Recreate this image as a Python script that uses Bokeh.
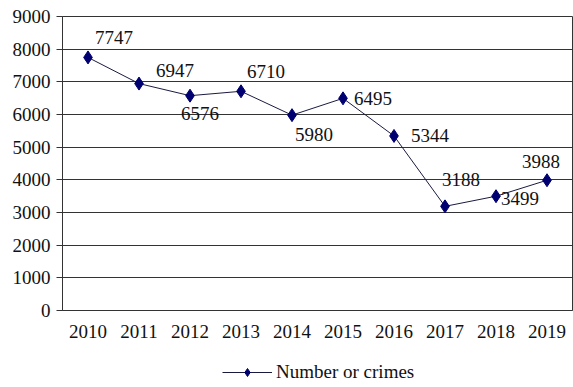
from bokeh.plotting import figure
from bokeh.layouts import column
from bokeh.models import Legend, LegendItem, ColumnDataSource, FixedTicker, Range1d
from bokeh.embed import file_html
from bokeh.resources import INLINE

years = ["2010", "2011", "2012", "2013", "2014", "2015", "2016", "2017", "2018", "2019"]
crimes = [7747, 6947, 6576, 6710, 5980, 6495, 5344, 3188, 3499, 3988]
label_dx = [26, 36, 10, 25, 22, 30, 36, 16, 24, -6]
label_dy = [-20, -13, 18, -20, 19, 0, 0, -27, 2, -19]
y_ticks = [0, 1000, 2000, 3000, 4000, 5000, 6000, 7000, 8000, 9000]
series_name = "Number or crimes"

FONT = "Liberation Serif"
LINE = "#1a1a40"
MARK = "#000070"

p = figure(width=573, height=350, x_range=years, y_range=Range1d(0, 9000),
           output_backend="svg", toolbar_location=None,
           min_border_left=62, min_border_right=1, min_border_top=16, min_border_bottom=40)
p.background_fill_color = "white"
p.border_fill_color = "white"
p.outline_line_color = "#333333"
p.outline_line_width = 1

src = ColumnDataSource(dict(x=years, y=crimes, dx=label_dx, dy=label_dy,
                            t=[str(v) for v in crimes]))

p.line("x", "y", source=src, line_color=LINE, line_width=1)
p.scatter("x", "y", source=src, marker="diamond", size=13,
          fill_color=MARK, line_color=MARK)
p.text("x", "y", text="t", source=src, x_offset="dx", y_offset="dy",
       text_align="center", text_baseline="middle",
       text_font={"value": FONT}, text_font_size="19px", text_color="#111111")

p.xgrid.grid_line_color = None
p.ygrid.grid_line_color = "#333333"
p.ygrid.grid_line_width = 1
p.yaxis.ticker = FixedTicker(ticks=y_ticks)

for ax in (p.xaxis, p.yaxis):
    ax.major_label_text_font = FONT
    ax.major_label_text_font_size = "19px"
    ax.major_label_text_color = "#111111"
    ax.axis_line_color = "#333333"
    ax.minor_tick_line_color = None

p.yaxis.major_tick_out = 6
p.yaxis.major_tick_in = 0
p.yaxis.major_tick_line_color = "#333333"
p.yaxis.major_label_standoff = 6
p.xaxis.major_tick_line_color = None
p.xaxis.major_label_standoff = 8

# legend strip below the chart (its renderers hold one off-screen point)
lg = figure(width=573, height=37, x_range=Range1d(0, 1), y_range=Range1d(0, 1),
            output_backend="svg", toolbar_location=None,
            min_border=0, min_border_left=0, min_border_right=0,
            min_border_top=0, min_border_bottom=0)
lg.axis.visible = False
lg.grid.visible = False
lg.outline_line_color = None
offscreen = ColumnDataSource(dict(x=[-5, -6], y=[-5, -6]))
l_line = lg.line("x", "y", source=offscreen, line_color=LINE, line_width=1)
l_pts = lg.scatter("x", "y", source=offscreen, marker="diamond", size=11,
                   fill_color=MARK, line_color=MARK)
legend = Legend(items=[LegendItem(label=series_name, renderers=[l_line, l_pts])],
                orientation="horizontal", location=(160, 4),
                label_text_font=FONT, label_text_font_size="19px",
                label_text_color="#111111", border_line_color=None,
                background_fill_alpha=0, glyph_width=50, label_standoff=4,
                margin=0, padding=0)
lg.add_layout(legend)

layout = column(p, lg, spacing=0)
open("out.html", "w").write(file_html(layout, INLINE))
